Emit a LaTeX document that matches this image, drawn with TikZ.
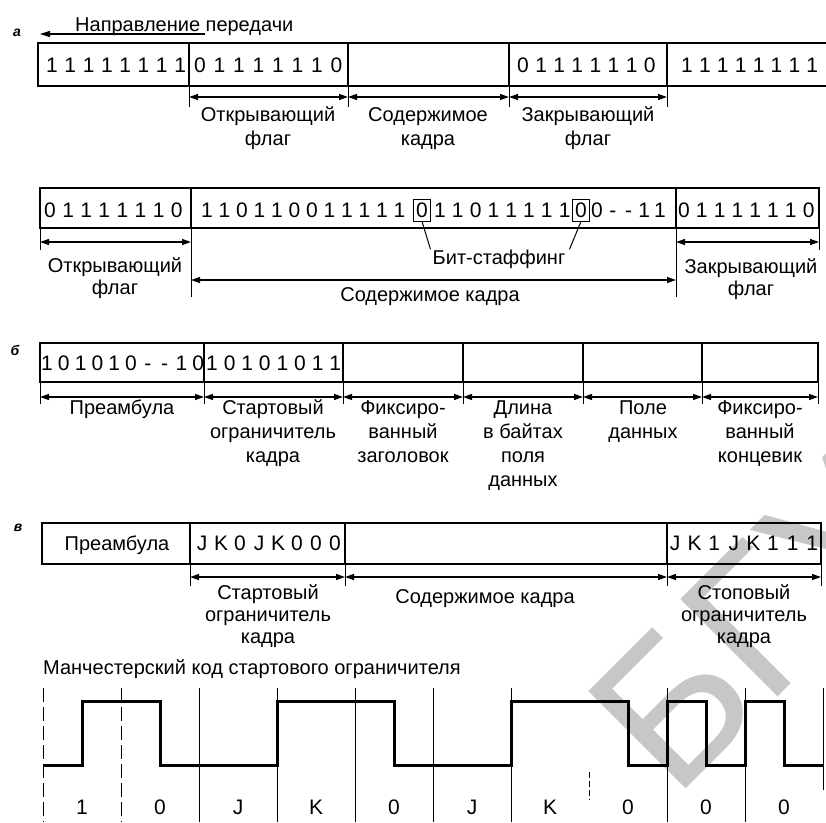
\documentclass[tikz,border=0pt]{standalone}
\usepackage{fontspec}
\setmainfont{Liberation Sans}
\usetikzlibrary{arrows.meta}
\newcommand\bitrow[5]{\foreach \c [count=\i from 0] in {#5}{\node[bit] (#1\i) at ({#2+\i*#3},#4) {\c};}}
\begin{document}
\begin{tikzpicture}[x=1pt,y=-1pt,
  box/.style={line width=1.3pt},
  ext/.style={line width=1pt},
  dim/.style={line width=1.3pt,{Triangle[length=9pt,width=6pt]}-{Triangle[length=9pt,width=6pt]}},
  bit/.style={font=\fontsize{21}{21}\selectfont, inner sep=0pt, text height=15pt, text depth=0pt, anchor=center},
  stuffed/.style={draw, line width=1pt, inner xsep=3pt, inner ysep=3.5pt},
  lbl/.style={font=\fontsize{20}{24}\selectfont, align=center, inner sep=0pt, anchor=base},
  lblc/.style={lbl, font=\fontsize{20}{22}\selectfont},
  tag/.style={font=\fontsize{14}{14}\selectfont\itshape\bfseries, inner sep=0pt},
  wm/.style={font=\fontsize{200}{200}\selectfont, text=black!22, inner sep=0pt},
  wave/.style={line width=3pt, line join=miter},
  cell/.style={line width=1pt}
]
\useasboundingbox (0,0) rectangle (826,822);

% watermark
\begin{scope}
\clip (0,0) rectangle (826,822);
\node[wm, rotate=45, anchor=base west] (wmk) at (674,801) {БГУ};
\end{scope}

% title
\node[lbl, anchor=base west] (title) at (75,31) {Направление передачи};
\coordinate (dirS) at (205,34);
\coordinate (dirE) at (40,34);
\draw[line width=1.3pt, -{Triangle[length=10pt,width=6pt]}] (dirS) -- (dirE);

% ---- row a
\node[tag] (ta) at (17,33) {а};
\draw[box] (826,43) -- (38,43) -- (38,86) -- (826,86);
\foreach \x in {189,348,509,667} {\draw[box] (\x,43) -- (\x,86); \draw[ext] (\x,86) -- (\x,107);}
\draw[dim] (189,97) -- (348,97);
\draw[dim] (348,97) -- (509,97);
\draw[dim] (509,97) -- (667,97);
\bitrow{ra}{52}{18.3}{65}{1,1,1,1,1,1,1,1}
\bitrow{rb}{200}{19.5}{65}{0,1,1,1,1,1,1,0}
\bitrow{rc}{523}{18.1}{65}{0,1,1,1,1,1,1,0}
\bitrow{rd}{687}{17.9}{65}{1,1,1,1,1,1,1,1}
\node[lbl] (l1a) at (268,145) {Открывающий\\флаг};
\node[lbl] (l1b) at (428,145) {Содержимое\\кадра};
\node[lbl] (l1c) at (588,145) {Закрывающий\\флаг};

% ---- row a2 (bit stuffing)
\draw[box] (40,188) rectangle (819,228);
\foreach \x in {191,676} \draw[box] (\x,188) -- (\x,228);
\draw[ext] (40,228) -- (40,250);
\draw[ext] (819,228) -- (819,250);
\draw[ext] (191,228) -- (191,297);
\draw[ext] (676,228) -- (676,297);
\draw[dim] (40,242) -- (191,242);
\draw[dim] (676,242) -- (819,242);
\draw[dim] (191,280) -- (676,280);
\bitrow{sa}{50}{18.1}{210}{0,1,1,1,1,1,1,0}
\bitrow{sb}{207}{17.5}{210}{1,1,0,1,1,0,0,1,1,1,1,1}
\node[bit, stuffed] (st1) at (422,210) {0};
\bitrow{sc}{440}{17.8}{210}{1,1,0,1,1,1,1,1}
\node[bit, stuffed] (st2) at (581,210) {0};
\bitrow{sd}{597}{15.75}{210}{0,-,-,1,1}
\bitrow{se}{684}{17.8}{210}{0,1,1,1,1,1,1,0}
\node[lbl] (bs) at (499,264) {Бит-стаффинг};
\draw[ext] (st1.south) -- ([xshift=-2pt]bs.north west);
\draw[ext] (st2.south) -- ([xshift=4pt]bs.north east);
\node[lblc] (l2a) at (115,294) {Открывающий\\флаг};
\node[lbl] (l2b) at (430,301) {Содержимое кадра};
\node[lblc] (l2c) at (751,295) {Закрывающий\\флаг};

% ---- row b
\node[tag] (tb) at (15,350) {б};
\draw[box] (40,343) rectangle (818,382);
\foreach \x in {204,343,463,583,702} \draw[box] (\x,343) -- (\x,382);
\foreach \x in {40,204,343,463,583,702,818} \draw[ext] (\x,382) -- (\x,404);
\foreach \a/\b in {40/204,204/343,343/463,463/583,583/702,702/818} \draw[dim] (\a,397) -- (\b,397);
\bitrow{pa}{47}{16.8}{363}{1,0,1,0,1,0,-,-,1,0}
\bitrow{pb}{212}{17.6}{363}{1,0,1,0,1,0,1,1}
\node[lbl] (l3a) at (122,414) {Преамбула};
\node[lbl] (l3b) at (273,462) {Стартовый\\ограничитель\\кадра};
\node[lbl] (l3c) at (403,462) {Фиксиро-\\ванный\\заголовок};
\node[lbl] (l3d) at (523,486) {Длина\\в байтах\\поля\\данных};
\node[lbl] (l3e) at (643,438) {Поле\\данных};
\node[lbl] (l3f) at (760,462) {Фиксиро-\\ванный\\концевик};

% ---- row c
\node[tag] (tc) at (18,528) {в};
\draw[box] (42,523) rectangle (821,564);
\foreach \x in {190,345,667} \draw[box] (\x,523) -- (\x,564);
\foreach \x in {190,345,667,821} \draw[ext] (\x,564) -- (\x,586);
\draw[dim] (190,577) -- (345,577);
\draw[dim] (345,577) -- (667,577);
\draw[dim] (667,577) -- (821,577);
\node[lbl] (pre2) at (117,550) {Преамбула};
\bitrow{ja}{202}{19}{543}{J,K,0,J,K,0,0,0}
\bitrow{jb}{675}{19.6}{543}{J,K,1,J,K,1,1,1}
\node[lblc] (l4a) at (268,643) {Стартовый\\ограничитель\\кадра};
\node[lblc] (l4b) at (485,603) {Содержимое кадра};
\node[lblc] (l4c) at (744,643) {Стоповый\\ограничитель\\кадра};

% ---- Manchester code
\node[lbl, anchor=base west] (man) at (43,674) {Манчестерский код стартового ограничителя};
\foreach \x in {43,121} \draw[cell, dash pattern=on 14pt off 5pt] (\x,688) -- (\x,822);
\foreach \x in {199,277,355,433,511,667,745} \draw[cell] (\x,688) -- (\x,822);
\draw[cell, dash pattern=on 6pt off 3pt] (589,772) -- (589,800);
\draw[cell] (823,688) -- (823,790);
\draw[wave] (43,765) -- (82,765) -- (82,701) -- (160,701) -- (160,765) -- (277,765)
  -- (277,701) -- (394,701) -- (394,765) -- (511,765) -- (511,701) -- (628,701)
  -- (628,765) -- (667,765) -- (667,701) -- (706,701) -- (706,765) -- (745,765)
  -- (745,701) -- (784,701) -- (784,765) -- (823,765);
\foreach \c [count=\i from 0] in {1,0,J,K,0,J,K,0,0,0} \node[bit] (m\i) at ({82+78*\i},807) {\c};
\end{tikzpicture}
\end{document}
